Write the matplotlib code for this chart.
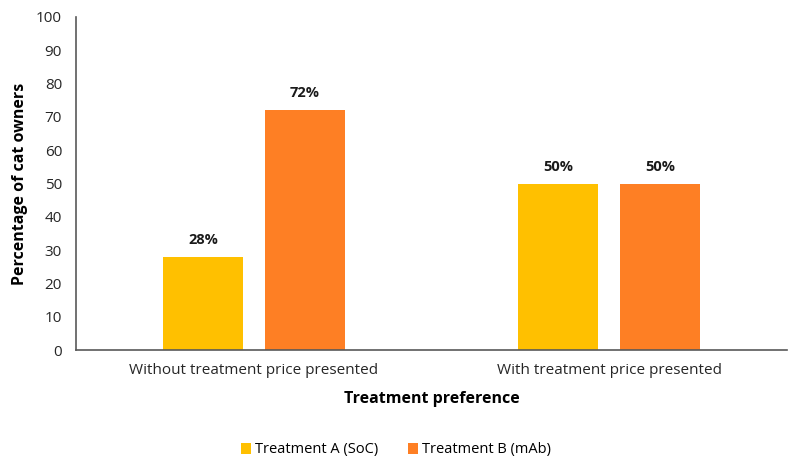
import matplotlib
matplotlib.use("Agg")
import matplotlib.pyplot as plt
import numpy as np

categories = ["Without treatment price presented", "With treatment price presented"]
series_names = ["Treatment A (SoC)", "Treatment B (mAb)"]
treatment_a = [28, 50]
treatment_b = [72, 50]
colors = ["#FFC000", "#FE7F24"]

plt.rcParams["font.family"] = ["Open Sans", "DejaVu Sans"]

fig = plt.figure(figsize=(7.92, 4.66), dpi=100)
ax = fig.add_axes([76 / 792, 1 - 350 / 466, 711 / 792, 333 / 466])

x = np.arange(len(categories))
width = 0.225
offset = 0.143
for vals, name, col, dx in zip([treatment_a, treatment_b], series_names, colors, [-offset, offset]):
    bars = ax.bar(x + dx, vals, width, color=col, label=name)
    for b, v in zip(bars, vals):
        ax.text(b.get_x() + b.get_width() / 2, v + 3, f"{v}%", ha="center", va="bottom",
                fontsize=10.5, fontweight="bold", color="#1a1a1a")

ax.set_xlim(-0.5, 1.5)
ax.set_ylim(0, 100)
ax.set_yticks(range(0, 101, 10))
ax.set_xticks(x)
ax.set_xticklabels(categories)
ax.tick_params(axis="both", length=0, labelsize=11, colors="#262626")
ax.tick_params(axis="y", pad=10)
ax.tick_params(axis="x", pad=9)
for s in ["top", "right"]:
    ax.spines[s].set_visible(False)
for s in ["left", "bottom"]:
    ax.spines[s].set_color("#595959")
    ax.spines[s].set_linewidth(1.2)

ax.set_ylabel("Percentage of cat owners", fontsize=11.5, fontweight="bold", labelpad=6)
ax.set_xlabel("Treatment preference", fontsize=11.5, fontweight="bold", labelpad=10)

fig.legend(loc="center", bbox_to_anchor=(0.5, 1 - 450 / 466), ncol=2, frameon=False,
           fontsize=10.5, handlelength=0.7, handleheight=0.7, handletextpad=0.3, columnspacing=2.0)

fig.savefig("out.png", dpi=100)
